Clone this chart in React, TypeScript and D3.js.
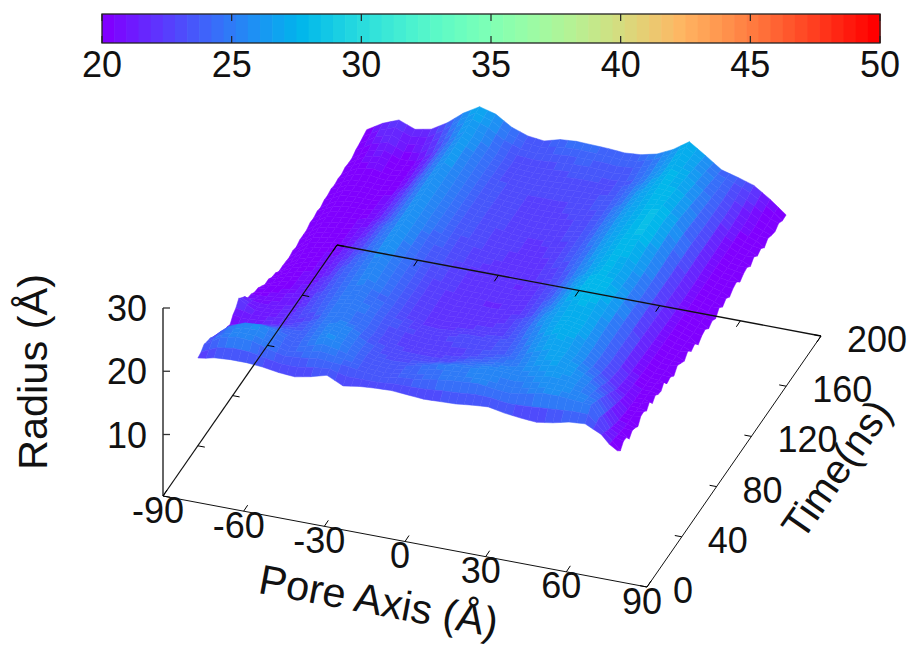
import React from "react";
import * as d3 from "d3";

const xTicks = [-90, -60, -30, 0, 30, 60, 90];
const tTicks = [0, 40, 80, 120, 160, 200];
const zTicks = [10, 20, 30];
const cbTicks = [20, 25, 30, 35, 40, 45, 50];
const xGrid = [-78, -72, -66, -60, -54, -48, -42, -36, -30, -24, -18, -12, -6, 0, 6, 12, 18, 24, 30, 36, 42, 48, 54, 60, 66, 72, 78];
const tGrid = [3, 10, 20, 30, 40, 50, 60, 80, 100, 120, 140, 160, 180, 197];
const r0 = [22.4, 23.0, 23.2, 23.2, 23.0, 22.6, 22.4, 22.9, 23.6, 22.4, 22.8, 23.0, 23.1, 22.9, 22.7, 22.8, 22.9, 23.2, 23.4, 22.9, 22.6, 22.4, 22.8, 23.4, 23.6, 22.4, 19.8];
const r10 = [23.2, 24.8, 25.4, 25.2, 24.4, 23.8, 24.0, 24.4, 24.2, 24.0, 23.6, 23.4, 23.8, 24.0, 24.4, 24.8, 25.0, 25.2, 24.8, 24.6, 25.0, 25.6, 25.6, 25.4, 25.2, 21.6, 20.0];
const r20 = [22.5, 24.6, 25.6, 25.8, 25.0, 24.0, 24.8, 25.8, 25.2, 24.2, 23.6, 23.4, 23.6, 24.2, 24.8, 25.0, 25.2, 25.6, 25.6, 25.4, 25.8, 26.2, 26.0, 25.4, 24.2, 20.8, 19.8];
const r30 = [21.0, 22.5, 23.2, 23.5, 23.6, 23.8, 24.8, 25.6, 25.2, 24.0, 23.2, 23.0, 23.0, 23.0, 23.2, 23.8, 24.2, 24.6, 24.8, 25.6, 26.4, 26.8, 26.0, 24.8, 23.0, 20.4, 20.0];
const r40 = [20.5, 21.0, 21.5, 21.8, 22.6, 23.4, 24.6, 25.0, 24.4, 23.6, 23.0, 22.6, 22.4, 22.4, 22.6, 23.0, 23.4, 23.8, 24.8, 26.0, 27.0, 26.6, 25.4, 23.8, 21.8, 20.2, 20.2];
const r50 = [22.5, 21.2, 21.2, 21.6, 22.6, 23.6, 24.6, 25.2, 24.6, 23.8, 23.2, 22.8, 22.6, 22.8, 23.2, 23.2, 23.2, 23.8, 25.0, 26.4, 27.6, 27.0, 25.4, 23.4, 21.4, 20.2, 20.2];
const r60 = [20.8, 20.8, 21.0, 21.5, 22.6, 23.8, 24.6, 25.2, 24.4, 23.6, 22.8, 22.2, 22.0, 22.2, 22.4, 22.4, 22.8, 23.8, 25.4, 26.8, 27.4, 27.0, 25.6, 23.4, 21.2, 20.0, 19.8];
const r80 = [19.0, 19.8, 20.4, 21.0, 22.2, 23.8, 24.8, 25.8, 24.6, 23.6, 22.8, 22.4, 22.0, 22.0, 21.8, 22.0, 22.4, 23.4, 25.0, 26.8, 28.0, 27.6, 25.8, 23.4, 21.0, 20.0, 19.6];
const r100 = [17.6, 19.4, 20.2, 20.6, 21.8, 23.2, 24.8, 26.2, 24.8, 23.8, 23.2, 22.6, 22.2, 22.2, 22.0, 21.8, 22.4, 23.2, 24.8, 26.4, 27.6, 27.2, 25.6, 23.4, 20.8, 20.0, 19.0];
const r120 = [17.8, 19.6, 20.0, 20.4, 21.2, 22.8, 24.6, 26.2, 25.0, 24.0, 23.4, 23.0, 22.6, 22.4, 22.2, 22.2, 22.8, 23.6, 25.0, 26.6, 27.8, 28.0, 26.0, 23.4, 20.8, 20.0, 19.2];
const r140 = [18.4, 19.8, 20.2, 20.2, 20.8, 22.4, 24.6, 26.4, 25.0, 24.0, 23.4, 23.2, 22.8, 22.4, 22.4, 22.6, 23.0, 23.6, 25.2, 26.8, 27.6, 28.2, 26.4, 23.6, 21.0, 20.0, 19.4];
const r160 = [18.8, 20.0, 20.2, 20.0, 20.4, 22.2, 24.6, 26.4, 25.2, 24.0, 23.4, 23.0, 22.8, 22.8, 22.8, 23.0, 23.2, 23.6, 25.0, 26.6, 27.8, 27.6, 25.8, 23.4, 21.2, 20.0, 19.4];
const r180 = [19.0, 20.6, 21.2, 20.2, 20.4, 22.2, 24.6, 26.6, 25.4, 24.0, 23.2, 23.0, 23.0, 23.2, 23.4, 23.4, 23.2, 23.4, 24.6, 26.0, 27.6, 26.8, 25.0, 23.4, 21.6, 20.2, 19.2];
const r200 = [20.1, 21.6, 22.6, 21.6, 22.1, 23.6, 25.6, 27.1, 26.4, 24.8, 23.9, 23.6, 24.3, 24.5, 24.4, 24.3, 24.1, 24.3, 24.9, 26.1, 27.8, 26.1, 24.3, 23.6, 22.8, 21.1, 19.1];
const radius = [r0, r10, r20, r30, r40, r50, r60, r80, r100, r120, r140, r160, r180, r200];
// small steps read along the jagged right-hand and left-hand rims, one per 4 ns
const rightRim = [0, 0.5, -0.3, 0.4, -0.4, 0.3, 0, -0.5, 0.4, -0.2, 0.5, -0.4, 0.2, -0.3, 0.6, -0.2, 0.1, -0.5, 0.4, 0, -0.4, 0.5, -0.2, 0.3, -0.5, 0.2, 0.4, -0.3, 0.1, -0.4, 0.5, -0.2, 0.3, -0.3, 0.2, 0.4, -0.4, 0.1, 0.3, -0.3, 0.4, -0.2, 0.2, -0.4, 0.3, 0, -0.2, 0.3, -0.1, 0, 0];
const leftRim = [0, 0.1, -0.1, 0.05, 0.15, -0.1, 0, 0.15, -0.15, 0.1, -0.05, 0.15, -0.1, 0.1, 0.2, -0.15, 0.05, -0.1, 0.15, 0, -0.15, 0.15, -0.05, 0.1, -0.15, 0.15, 0.05, -0.1, 0.1, -0.15, 0.15, 0, -0.1, 0.15, -0.05, 0.1, -0.15, 0.1, 0, 0.15, -0.1, 0.05, -0.1, 0.15, 0, -0.05, 0.1, 0, 0, 0, 0];

const FONT = "'Liberation Sans', Arial, sans-serif";
const fx = d3.scaleLinear().domain([-90, 90]).range([0, 1]);
const ft = d3.scaleLinear().domain([0, 200]).range([0, 1]);
const zY = d3.scaleLinear().domain([10, 30]).range([434.5, 308]);
const cbX = d3.scaleLinear().domain([20, 50]).range([102, 880]);
const sx = (x: number, t: number) => 163 + fx(x) * 484 + ft(t) * 174;
const sy = (x: number, t: number) => 496 + fx(x) * 91 - ft(t) * 251;
const N = 64;
const colorOf = (z: number) => {
  const level = Math.min(N - 1, Math.max(0, Math.floor(((z - 20) / 30) * N)));
  const v = level / (N - 1);
  const r = Math.abs(2 * v - 0.5);
  const g = Math.sin(Math.PI * v);
  const b = Math.cos((Math.PI * v) / 2);
  return d3.rgb(255 * Math.min(1, r), 255 * g, 255 * b).formatHex();
};
const surfY = (x: number, t: number, z: number) => sy(x, t) + 2 + (zY(z) - zY(0));
const line = d3.line<[number, number]>();

function surface() {
  const quads: { d: string; c: string }[] = [];
  const subX = 2;
  const last = xGrid.length - 1;
  for (let j = tGrid.length - 2; j >= 0; j--) {
    const subT = Math.max(2, Math.round((tGrid[j + 1] - tGrid[j]) / 4));
    for (let st = subT - 1; st >= 0; st--) {
      for (let i = 0; i < last; i++) {
        for (let sxi = 0; sxi < subX; sxi++) {
          const us = [sxi / subX, (sxi + 1) / subX];
          const vs = [st / subT, (st + 1) / subT];
          const at = (u: number, v: number) => {
            const z =
              (1 - u) * (1 - v) * radius[j][i] +
              u * (1 - v) * radius[j][i + 1] +
              (1 - u) * v * radius[j + 1][i] +
              u * v * radius[j + 1][i + 1];
            const x = xGrid[i] + u * (xGrid[i + 1] - xGrid[i]);
            const t = tGrid[j] + v * (tGrid[j + 1] - tGrid[j]);
            const k = Math.round(t / 4);
            const rim = i === last - 1 && u === 1 ? rightRim[k] : i === 0 && u === 0 ? leftRim[k] : 0;
            return { p: [sx(x, t), surfY(x, t, z + rim)] as [number, number], z };
          };
          const c = [at(us[0], vs[0]), at(us[1], vs[0]), at(us[1], vs[1]), at(us[0], vs[1])];
          const mean = d3.mean(c, (q) => q.z) as number;
          quads.push({ d: (line(c.map((q) => q.p)) as string) + "Z", c: colorOf(mean) });
        }
      }
    }
  }
  return quads;
}

export default function App() {
  const quads = surface();
  const seg = (a: [number, number], b: [number, number]) => line([a, b]) as string;
  const tickStyle = { stroke: "#000", strokeWidth: 1, fill: "none" };
  const textStyle = { fontFamily: FONT, fill: "#111" };
  const TICK = 36;
  const LABEL = 41.5;
  return (
    <svg width={912} height={646} style={{ position: "absolute", left: 0, top: 0, background: "#fff" }}>
      {d3.range(N).map((k) => (
        <rect key={k} x={cbX(20 + (k * 30) / N)} y={14} width={778 / N + 0.6} height={29} fill={colorOf(20 + ((k + 0.5) * 30) / N)} />
      ))}
      <rect x={102} y={14} width={778} height={29} fill="none" stroke="#222" strokeWidth={1.3} />
      {cbTicks.map((v) => (
        <g key={v}>
          <path d={seg([cbX(v), 14], [cbX(v), 21])} stroke="#222" strokeWidth={1.2} />
          <path d={seg([cbX(v), 43], [cbX(v), 36])} stroke="#222" strokeWidth={1.2} />
          <text x={cbX(v)} y={77} textAnchor="middle" fontSize={TICK} {...textStyle}>{v}</text>
        </g>
      ))}
      <g>
        {quads.map((q, i) => (
          <path key={i} d={q.d} fill={q.c} stroke={q.c} strokeWidth={0.5} />
        ))}
      </g>
      <path d={seg([sx(-90, 0), sy(-90, 0)], [sx(90, 0), sy(90, 0)])} stroke="#111" strokeWidth={1} />
      <path d={seg([sx(90, 0), sy(90, 0)], [sx(90, 200), sy(90, 200)])} stroke="#111" strokeWidth={1} />
      <path d={seg([sx(90, 200), sy(90, 200)], [sx(-90, 200), sy(-90, 200)])} stroke="#111" strokeWidth={1.4} />
      <path d={seg([sx(-90, 200), sy(-90, 200)], [sx(-90, 0), sy(-90, 0)])} stroke="#111" strokeWidth={1.2} />
      <path d={seg([163, 308], [163, 496])} stroke="#333" strokeWidth={1.5} />
      {zTicks.map((v) => (
        <g key={v}>
          <path d={seg([163, zY(v)], [170, zY(v)])} stroke="#333" strokeWidth={1.3} />
          <text x={147} y={zY(v) + 13} textAnchor="end" fontSize={TICK} {...textStyle}>{v}</text>
        </g>
      ))}
      {xTicks.map((v) => (
        <g key={v}>
          <path d={seg([sx(v, 0), sy(v, 0)], [sx(v, 0) + 4, sy(v, 0) - 6])} {...tickStyle} />
          <path d={seg([sx(v, 200), sy(v, 200)], [sx(v, 200) - 4, sy(v, 200) + 6])} {...tickStyle} />
          <text x={sx(v, 0) - 5} y={sy(v, 0) + 26.5} textAnchor="middle" fontSize={TICK} {...textStyle}>{v}</text>
        </g>
      ))}
      {tTicks.map((v) => (
        <g key={v}>
          <path d={seg([sx(90, v), sy(90, v)], [sx(90, v) - 7, sy(90, v) - 1.3])} {...tickStyle} />
          <path d={seg([sx(-90, v), sy(-90, v)], [sx(-90, v) + 7, sy(-90, v) + 1.3])} {...tickStyle} />
          <text x={sx(90, v) + 26} y={sy(90, v) + 16} textAnchor="start" fontSize={TICK} {...textStyle}>{v}</text>
        </g>
      ))}
      <text transform="translate(47,372) rotate(-90)" textAnchor="middle" fontSize={LABEL} {...textStyle}>Radius (Å)</text>
      <text transform="translate(376,615) rotate(10.6)" textAnchor="middle" fontSize={LABEL} {...textStyle}>Pore Axis (Å)</text>
      <text transform="translate(848,477) rotate(-55)" textAnchor="middle" fontSize={40.5} {...textStyle}>Time(ns)</text>
    </svg>
  );
}
